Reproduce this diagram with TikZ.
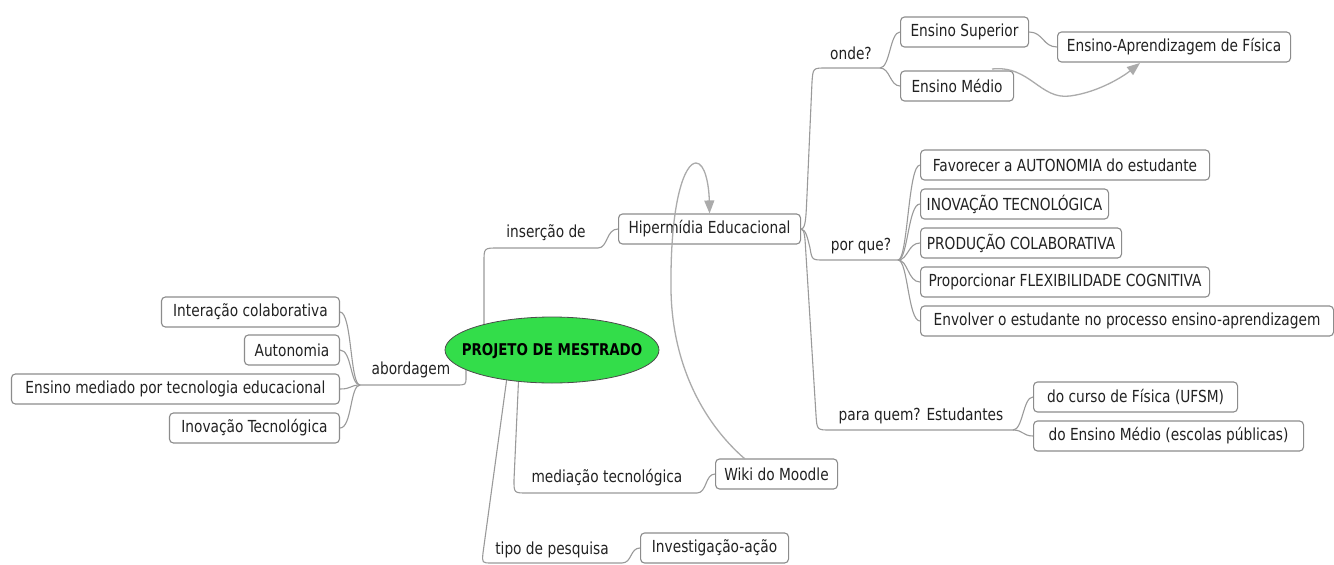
\documentclass[tikz,border=0pt]{standalone}
\usepackage{fontspec}
\setmainfont{DejaVu Sans Condensed}[FakeStretch=0.92]
\usetikzlibrary{shapes.geometric,backgrounds,arrows.meta}
\definecolor{ln}{HTML}{9A9A9A}
\definecolor{bd}{HTML}{8C8C8C}
\definecolor{tx}{HTML}{222222}
\definecolor{grn}{HTML}{33DD4A}
\definecolor{arrc}{HTML}{ABABAB}
\tikzset{
 mbox/.style={draw=bd, line width=1.1pt, rounded corners=4pt, fill=white, text=tx, minimum height=30, inner sep=0pt, anchor=west},
 lbox/.style={mbox, anchor=east},
 lbl/.style={text=tx, inner sep=1pt},
 conn/.style={draw=ln, line width=1.1pt},
 arr/.style={draw=arrc, line width=1.3pt, -{Triangle[length=13pt,width=10pt]}}
}
\begin{document}
\begin{tikzpicture}[x=1pt,y=-1pt,font=\fontsize{16.6}{19}\selectfont]
\useasboundingbox (0,0) rectangle (1334,565);
% central node
\filldraw[draw=black!70, line width=0.8pt, fill=grn] (552,350) ellipse [x radius=107, y radius=33];
\node[inner sep=0pt, text=black, font=\fontsize{16.2}{19}\selectfont\bfseries] (pm) at (552,351) {PROJETO DE MESTRADO};
% boxes
\node[mbox, minimum width=182] (he) at (618,229) {Hipermídia Educacional};
\node[mbox, minimum width=128] (es) at (900,32) {Ensino Superior};
\node[mbox, minimum width=113] (em) at (900,86) {Ensino Médio};
\node[mbox, minimum width=233] (eaf) at (1057,47) {Ensino-Aprendizagem de Física};
\node[mbox, minimum width=289] (f1) at (920,165) {Favorecer a AUTONOMIA do estudante};
\node[mbox, minimum width=188] (f2) at (920,204) {INOVAÇÃO TECNOLÓGICA};
\node[mbox, minimum width=201] (f3) at (920,243) {PRODUÇÃO COLABORATIVA};
\node[mbox, minimum width=289] (f4) at (920,282) {Proporcionar FLEXIBILIDADE COGNITIVA};
\node[mbox, minimum width=413] (f5) at (920,321) {Envolver o estudante no processo ensino-aprendizagem};
\node[mbox, minimum width=204] (cf) at (1033,397) {do curso de Física (UFSM)};
\node[mbox, minimum width=270] (emp) at (1033,436) {do Ensino Médio (escolas públicas)};
\node[mbox, minimum width=122] (wiki) at (715,474) {Wiki do Moodle};
\node[mbox, minimum width=148] (inv) at (640,548) {Investigação-ação};
\node[lbox, minimum width=178] (ic) at (340,312) {Interação colaborativa};
\node[lbox, minimum width=95] (au) at (340,350) {Autonomia};
\node[lbox, minimum width=328] (emt) at (340,389) {Ensino mediado por tecnologia educacional};
\node[lbox, minimum width=170] (it) at (340,428) {Inovação Tecnológica};
% labels
\node[lbl] (ins) at (546,233) {inserção de};
\node[lbl] (abo) at (411,370) {abordagem};
\node[lbl] (med) at (607,478) {mediação tecnológica};
\node[lbl] (tip) at (552,550) {tipo de pesquisa};
\node[lbl] (ond) at (851,53) {onde?};
\node[lbl] (por) at (861,246) {por que?};
\node[lbl] (para) at (921,416) {para quem? Estudantes};
% junctions
\coordinate (jab) at (360,385);
\coordinate (jon) at (880,68);
\coordinate (jpq) at (898,260);
\coordinate (jpa) at (1013,430);
\coordinate (jtp) at (622,563);
\coordinate (jmd) at (697,493);
\coordinate (jin) at (598,248);
\coordinate (pmA) at (484,335);
\coordinate (pmB) at (466,360);
\coordinate (pmC) at (519,370);
\coordinate (pmD) at (508,370);
\coordinate (emA) at (992,69);
\coordinate (eafB) at (1140,63);
\coordinate (wA) at (745,459);
\begin{scope}[on background layer]
\fill[white] (0,0) rectangle (1334,565);
\draw[conn] (pmA) -- (484,262) .. controls (484,248) .. (498,248) -- (jin) .. controls (608,248) and (606,229) .. (he.west);
\draw[conn] (pmB) -- (466,377) .. controls (466,385) .. (456,385) -- (jab);
\foreach \b in {ic,au,emt,it} \draw[conn] (jab) .. controls +(-10,0) and +(12,0) .. (\b.east);
\draw[conn] (pmC) -- (514,480) .. controls (514,493) .. (527,493) -- (jmd) .. controls (707,493) and (705,474) .. (wiki.west);
\draw[conn] (pmD) -- (483,553) .. controls (482,563) .. (492,563) -- (jtp) .. controls (632,563) and (630,548) .. (inv.west);
\draw[conn] (he.east) .. controls (806,229) and (806,215) .. (807,195) -- (812,82) .. controls (813,68) .. (826,68) -- (jon);
\draw[conn] (jon) .. controls (890,68) and (890,32) .. (es.west);
\draw[conn] (jon) .. controls (890,68) and (890,86) .. (em.west);
\draw[conn] (he.east) .. controls (806,229) and (808,240) .. (810,248) .. controls (812,260) .. (824,260) -- (jpq);
\foreach \b in {f1,f2,f3,f4,f5} \draw[conn] (jpq) .. controls +(10,0) and +(-12,0) .. (\b.west);
\draw[conn] (he.east) .. controls (805,229) and (805,240) .. (806,255) -- (816,415) .. controls (817,430) .. (830,430) -- (jpa);
\draw[conn] (jpa) .. controls +(10,0) and +(-10,0) .. (cf.west);
\draw[conn] (jpa) .. controls +(10,0) and +(-10,0) .. (emp.west);
\draw[conn] (es.east) .. controls +(14,0) and +(-14,0) .. (eaf.west);
\end{scope}
% arrows on top
\draw[arr] (emA) .. controls (1030,65) and (1040,100) .. (1070,96) .. controls (1100,92) and (1125,75) .. (eafB);
\draw[arr] (wA) .. controls (700,420) and (672,360) .. (671,290) .. controls (670,200) and (685,163) .. (696,163) .. controls (705,163) and (709,185) .. (he.north);
\end{tikzpicture}
\end{document}
